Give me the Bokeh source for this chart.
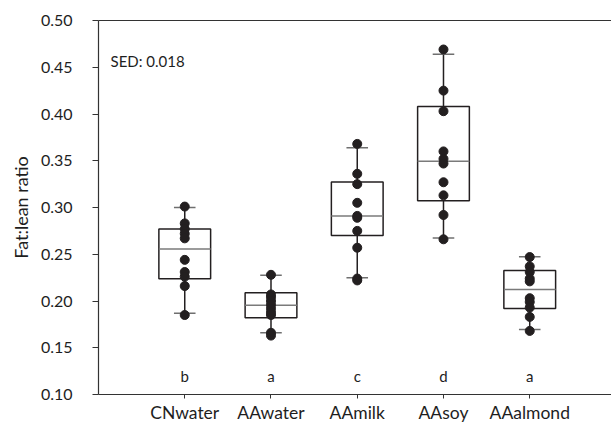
from bokeh.plotting import figure
from bokeh.models import Range1d, FixedTicker, PrintfTickFormatter, LinearAxis, Label, ColumnDataSource
from bokeh.core.properties import value
from bokeh.embed import file_html
from bokeh.resources import INLINE

categories = ["CNwater", "AAwater", "AAmilk", "AAsoy", "AAalmond"]
letters = ["b", "a", "c", "d", "a"]

cnwater = [0.301, 0.283, 0.277, 0.272, 0.267, 0.244, 0.231, 0.226, 0.216, 0.185]
aawater = [0.228, 0.207, 0.204, 0.200, 0.196, 0.192, 0.188, 0.185, 0.166, 0.163]
aamilk = [0.368, 0.336, 0.325, 0.305, 0.291, 0.289, 0.275, 0.257, 0.224, 0.222]
aasoy = [0.469, 0.425, 0.403, 0.360, 0.352, 0.347, 0.327, 0.313, 0.292, 0.266]
aaalmond = [0.247, 0.237, 0.231, 0.224, 0.221, 0.203, 0.199, 0.193, 0.183, 0.168]

lower = [0.187, 0.166, 0.225, 0.2675, 0.1695]
q1 = [0.2237, 0.182, 0.270, 0.3073, 0.1919]
median = [0.2557, 0.1955, 0.291, 0.3494, 0.2122]
q3 = [0.277, 0.2087, 0.3273, 0.408, 0.2325]
upper = [0.300, 0.2275, 0.364, 0.464, 0.2472]

sed_text = "SED: 0.018"
y_ticks = [0.10, 0.15, 0.20, 0.25, 0.30, 0.35, 0.40, 0.45, 0.50]

groups = [cnwater, aawater, aamilk, aasoy, aaalmond]
xpos = [i + 1 for i in range(len(categories))]

FONT = "Lato"
DARK = "#231f20"
TXT = "#1e1e1e"

p = figure(width=611, height=425, output_backend="svg", toolbar_location=None,
           x_range=Range1d(0, 5.948), y_range=Range1d(0.10, 0.50),
           min_border_left=98, min_border_top=20, min_border_right=0)
p.outline_line_color = None
p.xgrid.visible = False
p.ygrid.visible = False
p.background_fill_color = "white"
p.border_fill_color = "white"

# axes
xa = p.xaxis[0]
xa.ticker = FixedTicker(ticks=xpos)
xa.major_label_overrides = {x: c for x, c in zip(xpos, categories)}
xa.minor_tick_line_color = None
xa.major_tick_in = 0
xa.major_tick_out = 4
xa.major_label_standoff = 3
xa.major_label_text_font = FONT
xa.major_label_text_font_size = "17.5px"
xa.major_label_text_color = TXT
xa.axis_line_color = "#333333"
xa.axis_line_width = 1.2
xa.major_tick_line_color = "#333333"

ya = p.yaxis[0]
ya.ticker = FixedTicker(ticks=y_ticks)
ya.formatter = PrintfTickFormatter(format="%.2f")
ya.minor_tick_line_color = None
ya.major_tick_in = 0
ya.major_tick_out = 6
ya.major_label_standoff = 20
ya.major_label_text_font = FONT
ya.major_label_text_font_size = "16px"
ya.major_label_text_color = TXT
ya.axis_line_color = "#333333"
ya.axis_line_width = 1.2
ya.major_tick_line_color = "#333333"
ya.axis_label = "Fat:lean ratio"
ya.axis_label_text_font = FONT
ya.axis_label_text_font_size = "18px"
ya.axis_label_text_font_style = "normal"
ya.axis_label_text_color = TXT
ya.axis_label_standoff = 6

top_axis = LinearAxis(ticker=FixedTicker(ticks=[]), axis_line_color="#333333", axis_line_width=1.2,
                      major_tick_line_color=None, minor_tick_line_color=None)
p.add_layout(top_axis, "above")

# boxes
bw = 0.6
cw = 0.25
p.vbar(x=xpos, width=bw, bottom=q1, top=q3, fill_color=None, line_color=DARK, line_width=1.5)
p.segment(x0=[x - bw / 2 for x in xpos], y0=median, x1=[x + bw / 2 for x in xpos], y1=median,
          line_color="#7a7a7a", line_width=1.5)
p.segment(x0=xpos, y0=lower, x1=xpos, y1=q1, line_color=DARK, line_width=1.5)
p.segment(x0=xpos, y0=q3, x1=xpos, y1=upper, line_color=DARK, line_width=1.5)
p.segment(x0=[x - cw / 2 for x in xpos], y0=lower, x1=[x + cw / 2 for x in xpos], y1=lower,
          line_color="#6f6f6f", line_width=1.5)
p.segment(x0=[x - cw / 2 for x in xpos], y0=upper, x1=[x + cw / 2 for x in xpos], y1=upper,
          line_color="#6f6f6f", line_width=1.5)

# points
px, py = [], []
for x, g in zip(xpos, groups):
    px += [x] * len(g)
    py += g
p.scatter(x=px, y=py, size=9, fill_color=DARK, line_color=DARK)

# letters
src = ColumnDataSource(dict(x=xpos, y=[0.12] * len(xpos), t=letters))
p.text(x="x", y="y", text="t", source=src, text_font=value(FONT), text_font_size="15px",
       text_align="center", text_baseline="middle", text_color=TXT)

p.add_layout(Label(x=0.139, y=0.457, text=sed_text, text_font=FONT, text_font_size="15px",
                   text_baseline="middle", text_align="left", text_color=TXT))

open("out.html", "w").write(file_html(p, INLINE))
